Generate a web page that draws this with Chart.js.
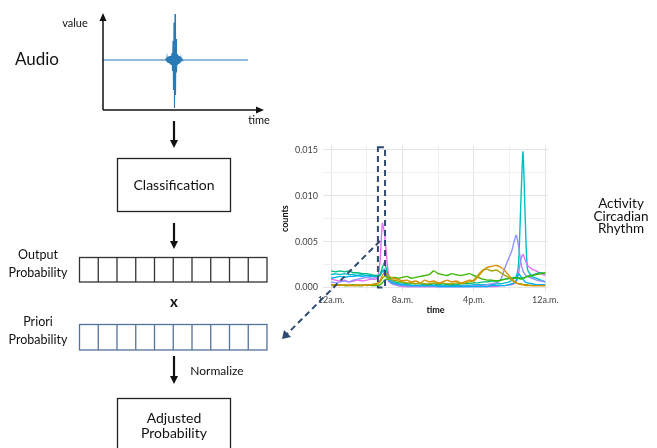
<!DOCTYPE html>
<html><head><meta charset="utf-8">
<script src="https://cdn.jsdelivr.net/npm/chart.js@4.4.1/dist/chart.umd.min.js"></script>
<style>
html,body{margin:0;padding:0;background:#fff;}
#wrap{position:relative;width:657px;height:448px;overflow:hidden;background:#fff;font-family:Lato,"Open Sans",sans-serif;color:#111;}
.t{position:absolute;transform:translate(-50%,-50%);white-space:nowrap;text-align:center;line-height:1.2;}
canvas{position:absolute;}
svg{position:absolute;left:0;top:0;}
</style></head>
<body><div id="wrap">
<canvas id="wave" width="145" height="100" style="left:103px;top:10px;"></canvas>
<canvas id="act" width="300" height="180" style="left:280px;top:135px;"></canvas>
<svg width="657" height="448" viewBox="0 0 657 448">
  <line x1="103" y1="110" x2="258" y2="110" stroke="#111" stroke-width="1.5"/>
  <polygon points="264,110 256,106.5 256,113.5" fill="#111"/>
  <line x1="103" y1="110" x2="103" y2="20" stroke="#111" stroke-width="1.5"/>
  <polygon points="103,13 99.5,21 106.5,21" fill="#111"/>
  <line x1="174" y1="121" x2="174" y2="141" stroke="#111" stroke-width="2.2"/>
  <polygon points="174,148 170,140 178,140" fill="#111"/>
  <line x1="174" y1="223" x2="174" y2="242" stroke="#111" stroke-width="2.2"/>
  <polygon points="174,249 170,241 178,241" fill="#111"/>
  <line x1="174" y1="356" x2="174" y2="377" stroke="#111" stroke-width="2.2"/>
  <polygon points="174,384 170,376 178,376" fill="#111"/>
  <rect x="117.5" y="158.5" width="113" height="53" fill="none" stroke="#222" stroke-width="1.3"/>
  <rect x="117.5" y="398.5" width="113" height="70" fill="none" stroke="#222" stroke-width="1.3"/>
  <g id="outCells" stroke="#333" stroke-width="1.3" fill="none"></g>
  <g id="priCells" stroke="#55729c" stroke-width="1.3" fill="none"></g>
  <line x1="380" y1="241" x2="287" y2="334" stroke="#2f4a73" stroke-width="2" stroke-dasharray="6,4"/>
  <polygon points="282,339 284,330 291,337" fill="#2f4a73"/>
</svg>
<div class="t" style="left:37px;top:59px;font-size:17px;">Audio</div>
<div class="t" style="left:75px;top:23px;font-size:11px;">value</div>
<div class="t" style="left:259px;top:120px;font-size:11px;">time</div>
<div class="t" style="left:174px;top:185px;font-size:14px;">Classification</div>
<div class="t" style="left:38px;top:264px;font-size:12.5px;line-height:18px;">Output<br>Probability</div>
<div class="t" style="left:174px;top:301px;font-size:15px;font-weight:bold;">x</div>
<div class="t" style="left:38px;top:331px;font-size:12.5px;line-height:18px;">Priori<br>Probability</div>
<div class="t" style="left:217px;top:371px;font-size:12px;">Normalize</div>
<div class="t" style="left:174px;top:425px;font-size:14px;line-height:15px;">Adjusted<br>Probability</div>
<div class="t" style="left:621px;top:216px;font-size:13.5px;line-height:12.5px;">Activity<br>Circadian<br>Rhythm</div>
</div>
<script>
// ---------- data ----------
const WAVE_X = [0,62,63,63.5,64,64.5,65,65.5,66,66.5,67,67.5,68,68.5,69,69.5,70,70.5,71,71.5,72,72.5,73,73.5,74,74.5,75,75.5,76,76.5,77,77.5,78,78.5,79,80,81,145];
const WAVE_Y = [0,0,0.02,-0.03,0.05,-0.05,0.06,-0.06,0.08,-0.07,0.08,-0.09,0.09,-0.1,0.14,-0.22,0.38,-0.6,0.75,-0.96,0.92,-0.7,0.42,-0.25,0.12,-0.1,0.09,-0.08,0.08,-0.07,0.06,-0.05,0.04,-0.03,0.02,-0.01,0,0];

const HOURS = [0,0.5,1,1.5,2,2.5,3,3.5,4,4.5,5,
  5.25,5.5,5.75,6,6.25,6.5,
  7,7.5,8,8.5,9,9.5,10,10.5,11,11.5,12,12.5,13,13.5,14,14.5,15,15.5,16,16.5,17,17.5,18,18.5,19,19.5,20,
  20.25,20.5,20.75,21,21.25,21.5,21.75,22,
  22.5,23,23.5,24];

const TICK_HOURS = [0,4,8,12,16,20,24];
const TICK_LABELS = ['12a.m.','','8a.m.','','4p.m.','','12a.m.'];
const COUNT_TICKS = [0,0.0025,0.005,0.0075,0.01,0.0125,0.015];
const COUNT_LABELS = ['0.000','','0.005','','0.010','','0.015'];
const HIGHLIGHT_HOURS = [5.25, 6.05];
const HIGHLIGHT_COUNTS = [0, 0.0153];

const S_ORANGE = [0.0003,0.0003,0.0002,0.0003,0.0002,0.0002,0.0003,0.0002,0.0003,0.0003,0.0004,
  0.0005,0.0008,0.0013,0.0016,0.0014,0.0012,
  0.0010,0.0009,0.0007,0.0008,0.0006,0.0007,0.0005,0.0008,0.0006,0.0007,0.0005,0.0006,0.0008,0.0006,0.0007,0.0005,0.0006,0.0008,0.0007,0.0012,0.0018,0.0022,0.0023,0.0024,0.0022,0.0018,0.0012,
  0.0009,0.0007,0.0005,0.0004,0.0003,0.0003,0.0002,0.0002,
  0.0002,0.0002,0.0002,0.0002];
const S_OLIVE = [0.0002,0.0002,0.0003,0.0002,0.0003,0.0002,0.0002,0.0003,0.0002,0.0003,0.0003,
  0.0004,0.0006,0.0010,0.0012,0.0011,0.0009,
  0.0008,0.0007,0.0006,0.0005,0.0005,0.0004,0.0005,0.0004,0.0004,0.0005,0.0004,0.0005,0.0004,0.0004,0.0005,0.0004,0.0005,0.0006,0.0008,0.0014,0.0019,0.0020,0.0018,0.0019,0.0016,0.0013,0.0010,
  0.0008,0.0006,0.0005,0.0004,0.0004,0.0003,0.0003,0.0003,
  0.0002,0.0002,0.0002,0.0002];
const S_GREEN = [0.0003,0.0002,0.0003,0.0002,0.0002,0.0003,0.0002,0.0002,0.0003,0.0002,0.0002,
  0.0002,0.0003,0.0005,0.0008,0.0009,0.0010,
  0.0011,0.0010,0.0011,0.0012,0.0010,0.0011,0.0012,0.0013,0.0014,0.0018,0.0015,0.0014,0.0013,0.0015,0.0014,0.0013,0.0014,0.0015,0.0013,0.0011,0.0009,0.0008,0.0008,0.0007,0.0008,0.0009,0.0010,
  0.0010,0.0010,0.0011,0.0010,0.0009,0.0010,0.0011,0.0012,
  0.0013,0.0014,0.0015,0.0016];
const S_TEAL = [0.0018,0.0017,0.0018,0.0017,0.0018,0.0016,0.0016,0.0015,0.0015,0.0014,0.0013,
  0.0013,0.0014,0.0022,0.0027,0.0018,0.0011,
  0.0007,0.0005,0.0005,0.0004,0.0004,0.0004,0.0004,0.0003,0.0003,0.0004,0.0003,0.0004,0.0003,0.0003,0.0003,0.0004,0.0004,0.0004,0.0005,0.0005,0.0006,0.0006,0.0007,0.0007,0.0008,0.0009,0.0010,
  0.0010,0.0011,0.0010,0.0011,0.0010,0.0010,0.0011,0.0012,
  0.0013,0.0015,0.0016,0.0015];
const S_CYAN = [0.0014,0.0015,0.0014,0.0015,0.0014,0.0014,0.0013,0.0014,0.0013,0.0013,0.0012,
  0.0012,0.0013,0.0018,0.0016,0.0011,0.0007,
  0.0004,0.0003,0.0003,0.0002,0.0002,0.0002,0.0002,0.0002,0.0002,0.0002,0.0002,0.0002,0.0002,0.0002,0.0002,0.0002,0.0002,0.0002,0.0003,0.0003,0.0003,0.0003,0.0003,0.0004,0.0004,0.0005,0.0006,
  0.0008,0.0010,0.0012,0.0025,0.0090,0.0148,0.0075,0.0020,
  0.0012,0.0010,0.0008,0.0006];
const S_BLUE = [0.0010,0.0011,0.0012,0.0011,0.0012,0.0012,0.0013,0.0012,0.0013,0.0012,0.0013,
  0.0013,0.0014,0.0017,0.0019,0.0013,0.0008,
  0.0005,0.0004,0.0003,0.0003,0.0002,0.0002,0.0002,0.0002,0.0002,0.0002,0.0001,0.0001,0.0001,0.0001,0.0001,0.0001,0.0001,0.0001,0.0001,0.0001,0.0001,0.0001,0.0002,0.0002,0.0002,0.0002,0.0003,
  0.0004,0.0005,0.0008,0.0015,0.0012,0.0009,0.0006,0.0005,
  0.0004,0.0003,0.0003,0.0003];
const S_PURPLE = [0.0006,0.0005,0.0006,0.0007,0.0006,0.0008,0.0009,0.0010,0.0011,0.0010,0.0011,
  0.0012,0.0014,0.0018,0.0020,0.0012,0.0006,
  0.0003,0.0002,0.0002,0.0001,0.0001,0.0001,0.0001,0.0001,0.0001,0.0001,0.0001,0.0001,0.0001,0.0001,0.0001,0.0001,0.0001,0.0001,0.0002,0.0002,0.0002,0.0003,0.0004,0.0005,0.0008,0.0022,0.0034,
  0.0040,0.0050,0.0057,0.0045,0.0028,0.0018,0.0014,0.0012,
  0.0010,0.0008,0.0007,0.0006];
const S_PINK = [0.0009,0.0008,0.0007,0.0008,0.0006,0.0007,0.0008,0.0007,0.0008,0.0009,0.0009,
  0.0011,0.0030,0.0070,0.0058,0.0030,0.0012,
  0.0005,0.0002,0.0001,0.0001,0.0001,0.0001,0.0001,0.0001,0.0001,0.0001,0.0001,0.0001,0.0001,0.0001,0.0001,0.0001,0.0001,0.0001,0.0001,0.0001,0.0001,0.0001,0.0001,0.0001,0.0002,0.0002,0.0003,
  0.0003,0.0004,0.0006,0.0015,0.0030,0.0036,0.0030,0.0024,
  0.0020,0.0018,0.0015,0.0013];

const SERIES = [
  ['#D89000', S_ORANGE], ['#A3A500', S_OLIVE], ['#39B600', S_GREEN], ['#00BF7D', S_TEAL],
  ['#00B0F6', S_BLUE], ['#9590FF', S_PURPLE], ['#E76BF3', S_PINK], ['#00BFC4', S_CYAN]
];

// ---------- diagram cells ----------
function cells(id, x0, y0, w, h, n){
  const g = document.getElementById(id);
  const ns = 'http://www.w3.org/2000/svg';
  const r = document.createElementNS(ns,'rect');
  r.setAttribute('x',x0); r.setAttribute('y',y0); r.setAttribute('width',w); r.setAttribute('height',h);
  g.appendChild(r);
  for(let i=1;i<n;i++){
    const l = document.createElementNS(ns,'line');
    const x = x0 + w*i/n;
    l.setAttribute('x1',x); l.setAttribute('x2',x); l.setAttribute('y1',y0); l.setAttribute('y2',y0+h);
    g.appendChild(l);
  }
}
cells('outCells', 79.5, 257.5, 187.5, 24.5, 10);
cells('priCells', 79.5, 324.5, 187.5, 25.5, 10);

// ---------- waveform ----------
new Chart(document.getElementById('wave'), {
  type:'line',
  data:{datasets:[{data:WAVE_X.map((x,i)=>({x:x,y:WAVE_Y[i]})), borderColor:'#2a7ab5', borderWidth:1.1, pointRadius:0, tension:0}]},
  options:{responsive:false, animation:false, devicePixelRatio:1,
    layout:{padding:0},
    plugins:{legend:{display:false}, tooltip:{enabled:false}},
    scales:{x:{type:'linear',display:false,min:0,max:145}, y:{display:false,min:-1,max:1}}}
});

// ---------- activity chart ----------
const highlight = {
  id:'highlight',
  afterDatasetsDraw(chart){
    const {ctx, scales:{x,y}} = chart;
    const x0 = x.getPixelForValue(HIGHLIGHT_HOURS[0]), x1 = x.getPixelForValue(HIGHLIGHT_HOURS[1]);
    const y0 = y.getPixelForValue(HIGHLIGHT_COUNTS[0]), y1 = y.getPixelForValue(HIGHLIGHT_COUNTS[1]);
    ctx.save();
    ctx.strokeStyle = '#2f4a73'; ctx.lineWidth = 2; ctx.setLineDash([6,4]);
    ctx.strokeRect(x0, y1, x1-x0, y0-y1);
    ctx.restore();
  }
};
new Chart(document.getElementById('act'), {
  type:'line',
  data:{datasets:SERIES.map(([c,v])=>({data:HOURS.map((h,i)=>({x:h,y:v[i]})), borderColor:c, borderWidth:1.4, pointRadius:0, tension:0.2, fill:false}))},
  options:{responsive:false, animation:false, devicePixelRatio:1,
    layout:{padding:{left:0,right:32,top:10,bottom:0}},
    plugins:{legend:{display:false}, tooltip:{enabled:false}},
    scales:{
      x:{type:'linear', min:-0.9, max:24.3,
        afterBuildTicks(s){ s.ticks = TICK_HOURS.map(v=>({value:v})); },
        afterFit(s){ s.height = 23; },
        border:{display:false},
        grid:{drawTicks:false, color:c=> (c.tick && TICK_LABELS[TICK_HOURS.indexOf(c.tick.value)]) ? '#e4e4e4' : '#f0f0f0'},
        ticks:{autoSkip:false, maxRotation:0, padding:3, color:'#444', font:{family:'Lato', size:9},
          callback:(v)=>{const i=TICK_HOURS.indexOf(v); return i>=0?TICK_LABELS[i]:'';}},
        title:{display:true, text:'time', color:'#111', font:{family:'Lato', size:9, weight:'bold'}, padding:{top:0,bottom:0}}
      },
      y:{type:'linear', min:-0.0005, max:0.0155,
        afterBuildTicks(s){ s.ticks = COUNT_TICKS.map(v=>({value:v})); },
        afterFit(s){ s.width = 43; },
        border:{display:false},
        grid:{drawTicks:false, color:c=> (c.tick && COUNT_LABELS[COUNT_TICKS.indexOf(c.tick.value)]) ? '#e4e4e4' : '#f0f0f0'},
        ticks:{padding:5, color:'#444', font:{family:'Lato', size:9},
          callback:(v)=>{const i=COUNT_TICKS.indexOf(v); return i>=0?COUNT_LABELS[i]:'';}},
        title:{display:true, text:'counts', color:'#111', font:{family:'Lato', size:9, weight:'bold'}, padding:{top:0,bottom:0}}
      }
    }
  },
  plugins:[highlight]
});
</script>
</body></html>
